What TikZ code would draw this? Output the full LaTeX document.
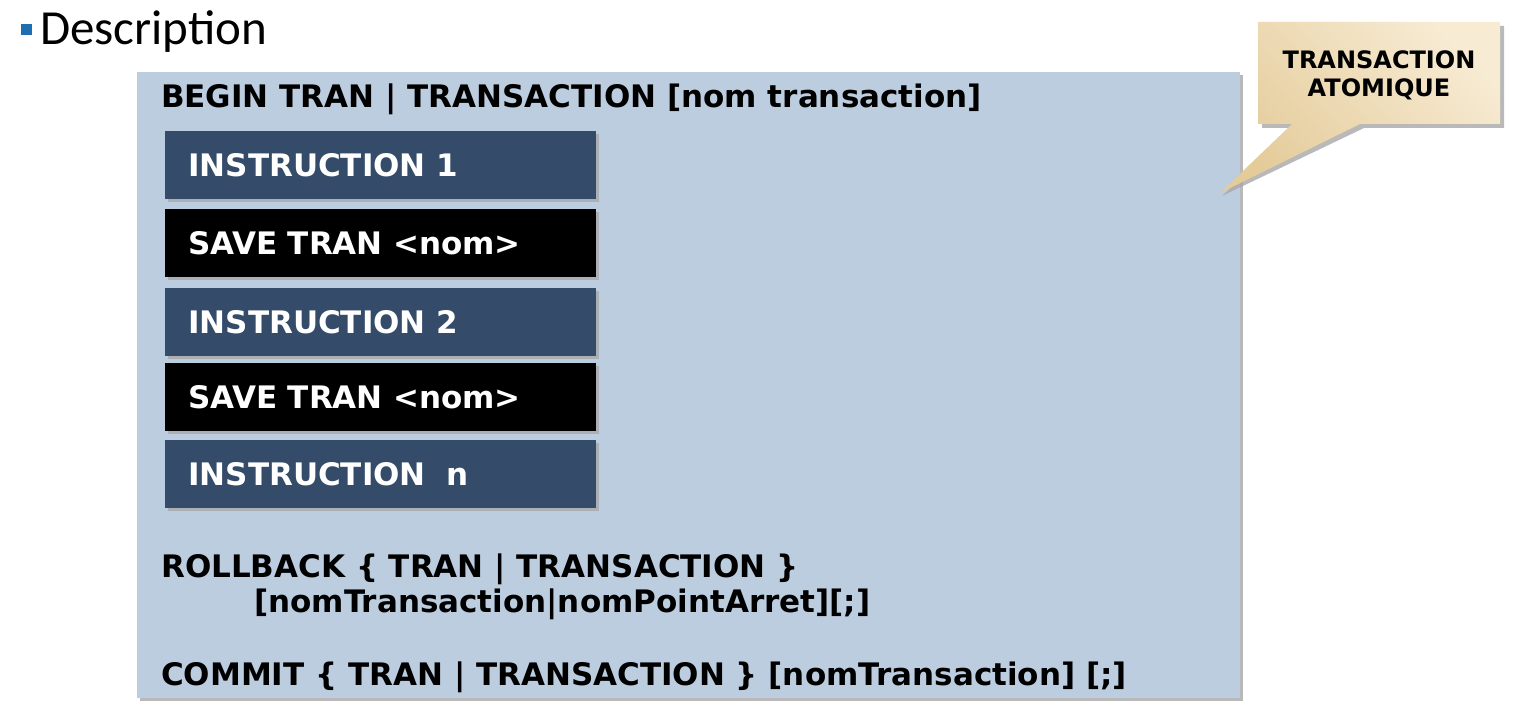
\documentclass[tikz,border=0pt]{standalone}
\usepackage{fontspec}
\newfontfamily\codefont{DejaVu Sans}
\newfontfamily\titlefont{Carlito}
\definecolor{panelblue}{HTML}{BDCDE0}
\definecolor{slate}{HTML}{344C6A}
\definecolor{bulletblue}{HTML}{1F6FB0}
\definecolor{shadowgrey}{HTML}{A8A8A8}
\definecolor{tanA}{HTML}{E4CB9A}
\definecolor{tanB}{HTML}{F7EBD3}
\tikzset{
  x=1pt, y=-1pt,
  code/.style={font=\codefont\bfseries\fontsize{31}{37}\selectfont, inner sep=0pt, anchor=base west},
  rowbox/.style={anchor=north west, minimum height=68pt, text width=385pt, inner xsep=23pt,
    align=left, text=white, font=\codefont\bfseries\fontsize{31}{37}\selectfont},
  instr/.style={rowbox, fill=slate},
  savept/.style={rowbox, fill=black},
  shadowed/.style={preaction={fill=shadowgrey, opacity=0.8, transform canvas={shift={(3pt,-3pt)}}}},
}
\begin{document}
\begin{tikzpicture}
\useasboundingbox (0,0) rectangle (1514,722);
\fill[white] (0,0) rectangle (1514,722);

% heading
\fill[bulletblue] (21,24) rectangle (32,35);
\node[font=\titlefont\fontsize{49}{57}\selectfont, inner sep=0pt, anchor=base west] (heading) at (40,45) {Description};

% main panel
\node[shadowed, fill=panelblue, anchor=north west, minimum width=1103pt, minimum height=626pt, inner sep=0pt] (panel) at (137,72) {};

\node[code] (begin) at (161,108) {BEGIN TRAN | TRANSACTION [nom transaction]};

% statements of the transaction
\node[instr, shadowed] (i1) at (165,131) {INSTRUCTION 1};
\node[savept, shadowed] (s1) at (165,209) {SAVE TRAN <nom>};
\node[instr, shadowed] (i2) at (165,288) {INSTRUCTION 2};
\node[savept, shadowed] (s2) at (165,363) {SAVE TRAN <nom>};
\node[instr, shadowed] (in) at (165,440) {INSTRUCTION~~n};

\node[code] (rollback) at (161,577) {ROLLBACK \{ TRAN | TRANSACTION \}};
\node[code] (rollback2) at (254,612) {[nomTransaction|nomPointArret][;]};
\node[code] (commit) at (161,685) {COMMIT \{ TRAN | TRANSACTION \} [nomTransaction] [;]};

% callout
\fill[shadowgrey, opacity=0.8] (1262,26) -- (1504,26) -- (1504,128) -- (1364,128) -- (1222,196) -- (1294,128) -- (1262,128) -- cycle;
\shade[left color=tanA, right color=tanB, shading angle=135]
  (1258,22) -- (1500,22) -- (1500,124) -- (1360,124) -- (1220,193) -- (1292,124) -- (1258,124) -- cycle;
\node[font=\codefont\bfseries\fontsize{24}{28}\selectfont, align=center, inner sep=0pt] (callout) at (1379,75) {TRANSACTION\\ATOMIQUE};
\end{tikzpicture}
\end{document}
